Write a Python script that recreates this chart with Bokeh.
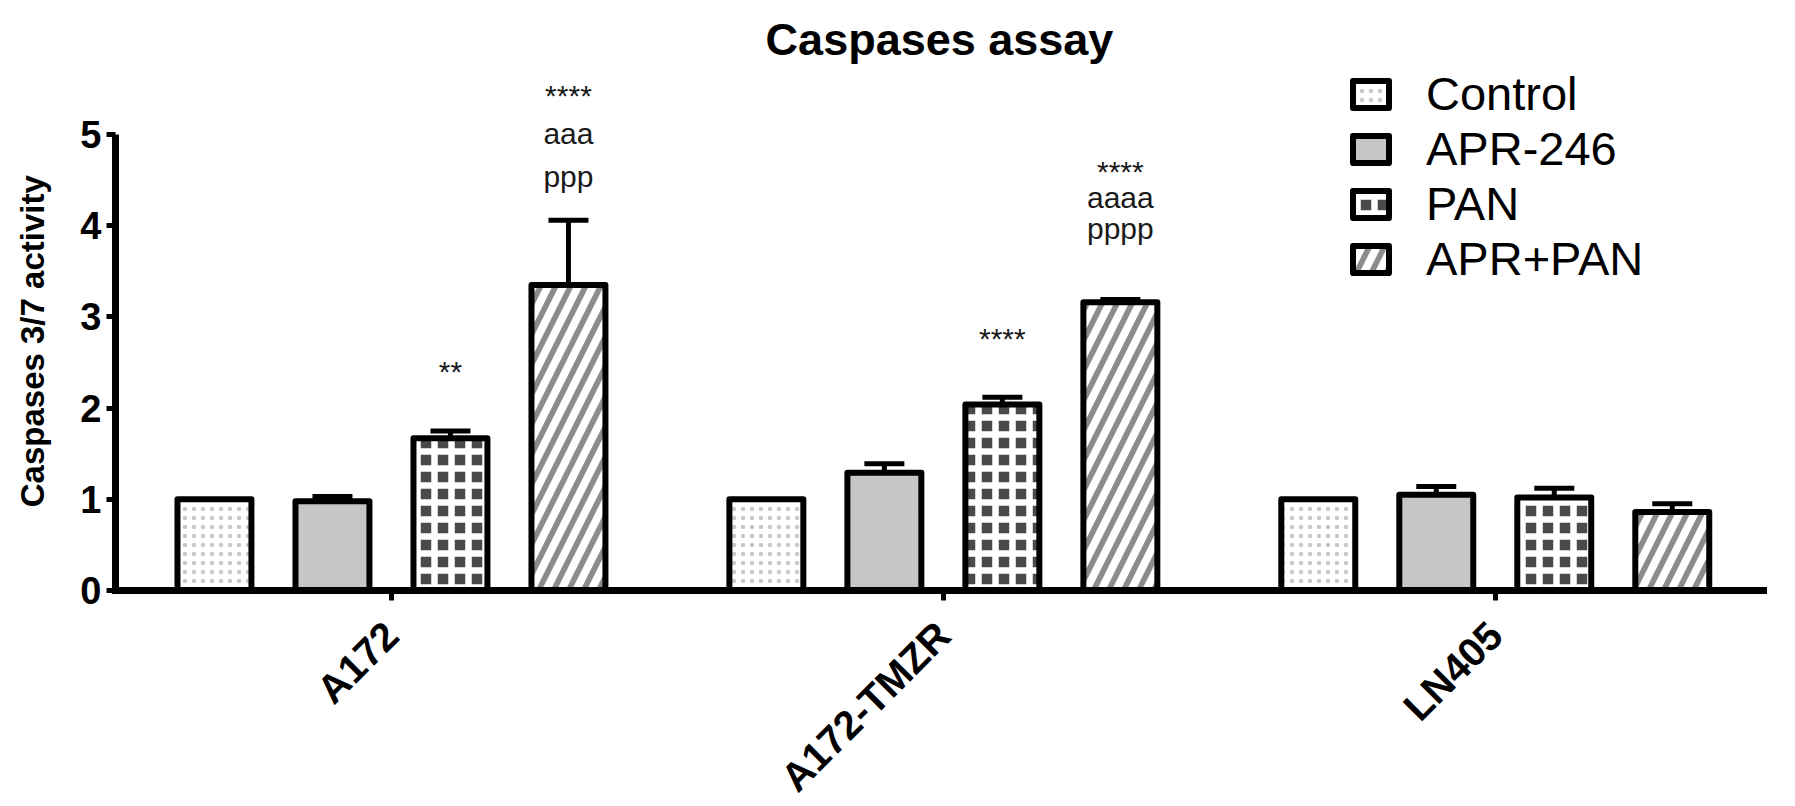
from math import pi

from bokeh.plotting import figure
from bokeh.models import (ColumnDataSource, Range1d, FixedTicker, Legend,
                          LegendItem, Whisker, TeeHead)
from bokeh.core.properties import value
from bokeh.embed import file_html
from bokeh.resources import INLINE

# ---- data -------------------------------------------------------------
cell_lines = ["A172", "A172-TMZR", "LN405"]
treatments = ["Control", "APR-246", "PAN", "APR+PAN"]

control = [1.00, 1.00, 1.00]
apr246 = [0.98, 1.29, 1.05]
pan = [1.67, 2.04, 1.02]
apr_pan = [3.35, 3.16, 0.86]

# upper error (SEM); the normalised control has none
control_err = [0.0, 0.0, 0.0]
apr246_err = [0.05, 0.10, 0.09]
pan_err = [0.08, 0.08, 0.10]
apr_pan_err = [0.71, 0.03, 0.09]

# significance marks: cell line index, treatment index, text, baseline height
sig_line = [0, 0, 0, 0, 1, 1, 1, 1]
sig_treat = [2, 3, 3, 3, 2, 3, 3, 3]
sig_text = ["**", "****", "aaa", "ppp", "****", "****", "aaaa", "pppp"]
sig_y = [2.40, 5.43, 5.01, 4.54, 2.76, 4.59, 4.31, 3.97]

y_ticks = [0, 1, 2, 3, 4, 5]

# ---- styling ----------------------------------------------------------
FONT = "Liberation Sans"
SLOT = 0.2138        # distance between neighbouring bars (x units)
BAR_W = 0.134        # bar width (x units)

series_values = [control, apr246, pan, apr_pan]
series_errors = [control_err, apr246_err, pan_err, apr_pan_err]
series_style = [
    dict(fill_color="white", hatch_pattern="dot", hatch_color="#c8c8c8",
         hatch_scale=9, hatch_weight=1.6),
    dict(fill_color="#c6c6c6"),
    dict(fill_color="#4a4a4a", hatch_pattern="cross", hatch_color="white",
         hatch_scale=17, hatch_weight=6.5),
    dict(fill_color="white", hatch_pattern="right_diagonal_line",
         hatch_color="#8c8c8c", hatch_scale=30, hatch_weight=5.7),
]

p = figure(
    frame_width=1648, frame_height=526,
    min_border_left=115, min_border_right=32,
    min_border_top=64, min_border_bottom=216,
    x_range=Range1d(-0.5, 2.486), y_range=Range1d(0, 5.768),
    output_backend="svg", toolbar_location=None, tools="",
    background_fill_color="white", border_fill_color="white",
)
p.outline_line_color = None
p.grid.visible = False

p.title.text = "Caspases assay"
p.title.text_font = FONT
p.title.text_font_size = "45px"
p.title.text_font_style = "bold"
p.title.text_color = "black"
p.title.align = "center"
p.title.standoff = 0

# ---- bars + error bars -----------------------------------------------
legend_items = []
for i, (name, vals, errs, style) in enumerate(
        zip(treatments, series_values, series_errors, series_style)):
    xs = [g + (i - 1.5) * SLOT for g in range(len(cell_lines))]
    src = ColumnDataSource(dict(
        x=xs, top=vals,
        upper=[v + e for v, e in zip(vals, errs)],
    ))
    r = p.vbar(x="x", top="top", width=BAR_W, bottom=0, source=src,
               line_color="black", line_width=6, line_join="round",
               **style)
    legend_items.append(LegendItem(label=name, renderers=[r]))
    if any(e > 0 for e in errs):
        w = Whisker(base="x", lower="top", upper="upper", source=src,
                    line_color="black", line_width=5,
                    upper_head=TeeHead(size=40, line_width=5,
                                       line_color="black"),
                    lower_head=None, level="overlay")
        p.add_layout(w)

# ---- significance labels ---------------------------------------------
sig_src = ColumnDataSource(dict(
    x=[l + (t - 1.5) * SLOT for l, t in zip(sig_line, sig_treat)],
    y=sig_y, text=sig_text,
))
p.text(x="x", y="y", text="text", source=sig_src,
       text_align="center", text_baseline="alphabetic",
       text_font=value(FONT), text_font_size="30px", text_color="#1a1a1a")

# ---- axes -------------------------------------------------------------
xa = p.xaxis[0]
xa.ticker = FixedTicker(ticks=list(range(len(cell_lines))))
xa.major_label_overrides = {i: c for i, c in enumerate(cell_lines)}
xa.major_label_orientation = pi / 4
xa.major_label_text_font = FONT
xa.major_label_text_font_size = "40px"
xa.major_label_text_font_style = "bold"
xa.major_label_text_color = "black"
xa.major_label_standoff = 28
xa.axis_line_width = 7
xa.axis_line_cap = "square"
xa.major_tick_out = 10
xa.major_tick_in = 0
xa.major_tick_line_width = 5
xa.minor_tick_line_color = None

ya = p.yaxis[0]
ya.ticker = FixedTicker(ticks=y_ticks)
ya.bounds = (0, 5)
# trailing no-break spaces keep the title centred on the 0-5 span
ya.axis_label = "Caspases 3/7 activity\u00a0\u00a0\u00a0"
ya.axis_label_text_font = FONT
ya.axis_label_text_font_size = "33px"
ya.axis_label_text_font_style = "bold"
ya.axis_label_text_color = "black"
ya.axis_label_standoff = 26
ya.major_label_text_font = FONT
ya.major_label_text_font_size = "38px"
ya.major_label_text_font_style = "bold"
ya.major_label_text_color = "black"
ya.major_label_standoff = 5
ya.axis_line_width = 7
ya.major_tick_out = 9
ya.major_tick_in = 0
ya.major_tick_line_width = 5
ya.minor_tick_line_color = None

# ---- legend -----------------------------------------------------------
legend = Legend(
    items=legend_items, location=(1233, 304),
    label_text_font=FONT, label_text_font_size="47px",
    label_text_color="black",
    glyph_width=45, glyph_height=34, label_height=51,
    label_standoff=33, spacing=0, padding=0, margin=0,
    border_line_color=None, background_fill_alpha=0,
)
p.add_layout(legend)

open("out.html", "w").write(file_html(p, INLINE))
